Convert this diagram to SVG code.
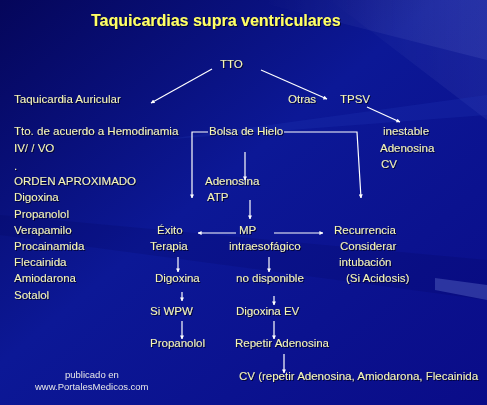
<svg xmlns="http://www.w3.org/2000/svg" width="487" height="405" viewBox="0 0 487 405">
<defs>
<linearGradient id="bg" x1="0" y1="0" x2="1" y2="1">
<stop offset="0" stop-color="#05065a"/>
<stop offset="0.45" stop-color="#0c1896"/>
<stop offset="1" stop-color="#0a0c88"/>
</linearGradient>
<linearGradient id="streak" x1="0" y1="0" x2="1" y2="0">
<stop offset="0" stop-color="#ffffff" stop-opacity="0"/>
<stop offset="1" stop-color="#aab8ff" stop-opacity="0.35"/>
</linearGradient>
<marker id="ah" viewBox="0 0 10 10" refX="9" refY="5" markerWidth="4" markerHeight="4" orient="auto" markerUnits="userSpaceOnUse">
<path d="M0,0 L10,5 L0,10 z" fill="#ffffff"/>
</marker>
<filter id="sh" x="-5%" y="-20%" width="110%" height="140%">
<feDropShadow dx="1" dy="1" stdDeviation="0.4" flood-color="#000020" flood-opacity="0.8"/>
</filter>
</defs>
<style>
text{font-family:"Liberation Sans",Arial,sans-serif;font-size:11.5px;fill:#f4f4b8;}
.t{font-size:16px;font-weight:bold;fill:#ffff66;}
.s{font-size:9.5px;fill:#e8e8e8;}
.c line,.c path{stroke:#ffffff;stroke-width:1.2;fill:none;}
</style>
<rect width="487" height="405" fill="url(#bg)"/>
<g opacity="0.6">
<polygon points="250,0 487,0 487,60" fill="url(#streak)" opacity="0.5"/>
<polygon points="330,0 487,0 487,120 " fill="url(#streak)" opacity="0.4"/>
<polygon points="160,140 487,95 487,115" fill="#3050d0" opacity="0.25"/>
<polygon points="0,215 487,260 487,300 0,235" fill="#000050" opacity="0.25"/>
<polygon points="435,278 487,285 487,300 435,290" fill="#8090e0" opacity="0.5"/>
</g>
<g id="title" filter="url(#sh)"><text class="t" x="91" y="26">Taquicardias supra ventriculares</text></g>
<g filter="url(#sh)">
<g id="tto"><text x="220" y="68">TTO</text></g>
<g id="auricular"><text x="14" y="103">Taquicardia Auricular</text></g>
<g id="otras"><text x="288" y="103">Otras</text></g>
<g id="tpsv"><text x="340" y="103">TPSV</text></g>
<g id="auricular-list">
<text x="14" y="135">Tto. de acuerdo a Hemodinamia</text>
<text x="14" y="152">IV/ / VO</text>
<text x="14" y="170">.</text>
<text x="14" y="185">ORDEN APROXIMADO</text>
<text x="14" y="201">Digoxina</text>
<text x="14" y="218">Propanolol</text>
<text x="14" y="234">Verapamilo</text>
<text x="14" y="250">Procainamida</text>
<text x="14" y="266">Flecainida</text>
<text x="14" y="282">Amiodarona</text>
<text x="14" y="299">Sotalol</text>
</g>
<g id="bolsa"><text x="209" y="135">Bolsa de Hielo</text></g>
<g id="inestable"><text x="383" y="135">inestable</text><text x="380" y="152">Adenosina</text><text x="381" y="168">CV</text></g>
<g id="adenosina"><text x="205" y="185">Adenosina</text><text x="207" y="201">ATP</text></g>
<g id="exito"><text x="157" y="234">Éxito</text><text x="150" y="250">Terapia</text></g>
<g id="mp"><text x="239" y="234">MP</text><text x="229" y="250">intraesofágico</text></g>
<g id="recurrencia"><text x="334" y="234">Recurrencia</text><text x="340" y="250">Considerar</text><text x="339" y="266">intubación</text><text x="346" y="282">(Si Acidosis)</text></g>
<g id="digoxina"><text x="155" y="282">Digoxina</text></g>
<g id="nodisp"><text x="236" y="282">no disponible</text></g>
<g id="siwpw"><text x="150" y="315">Si  WPW</text></g>
<g id="digoxinaev"><text x="236" y="315">Digoxina EV</text></g>
<g id="propanolol"><text x="150" y="347">Propanolol</text></g>
<g id="repetir"><text x="235" y="347">Repetir Adenosina</text></g>
<g id="cv"><text x="239" y="380">CV  (repetir Adenosina, Amiodarona, Flecainida</text></g>
</g>
<g id="credit"><text class="s" x="65" y="378">publicado en</text><text class="s" x="35" y="390">www.PortalesMedicos.com</text></g>
<g id="connectors" class="c">
<line x1="212" y1="69" x2="151" y2="103" marker-end="url(#ah)"/>
<line x1="261" y1="70" x2="327" y2="99" marker-end="url(#ah)"/>
<line x1="367" y1="107" x2="400" y2="122" marker-end="url(#ah)"/>
<path d="M208,132 H192 V198" marker-end="url(#ah)"/>
<path d="M284,132 H357 L361,198" marker-end="url(#ah)"/>
<line x1="245" y1="152" x2="245" y2="180" marker-end="url(#ah)"/>
<line x1="250" y1="200" x2="250" y2="219" marker-end="url(#ah)"/>
<line x1="236" y1="233" x2="198" y2="233" marker-end="url(#ah)"/>
<line x1="274" y1="233" x2="323" y2="233" marker-end="url(#ah)"/>
<line x1="178" y1="257" x2="178" y2="272" marker-end="url(#ah)"/>
<line x1="269" y1="257" x2="269" y2="272" marker-end="url(#ah)"/>
<line x1="182" y1="292" x2="182" y2="301" marker-end="url(#ah)"/>
<line x1="274" y1="296" x2="274" y2="305" marker-end="url(#ah)"/>
<line x1="182" y1="321" x2="182" y2="339" marker-end="url(#ah)"/>
<line x1="274" y1="321" x2="274" y2="339" marker-end="url(#ah)"/>
<line x1="284" y1="354" x2="284" y2="373" marker-end="url(#ah)"/>
</g>
</svg>
